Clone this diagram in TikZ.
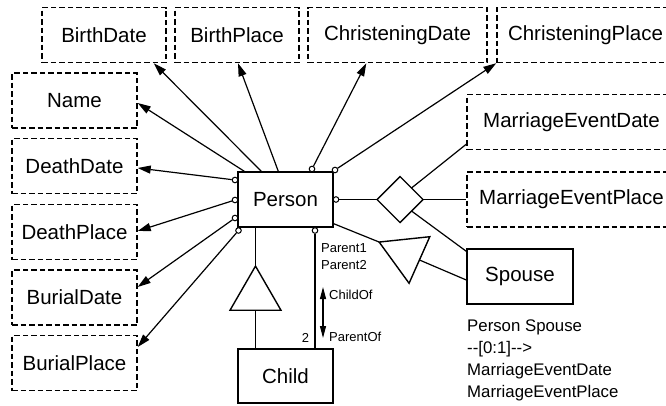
\documentclass[tikz,border=0pt]{standalone}
\usepackage{fontspec}
\setmainfont{Liberation Sans}
\usetikzlibrary{arrows.meta,shapes.geometric}
\begin{document}
\begin{tikzpicture}[x=1pt,y=-1pt,
  ent/.style={draw, line width=1.4pt, minimum width=#1, minimum height=55pt, inner sep=0pt, font=\fontsize{20.5}{23}\selectfont},
  attr/.style={draw, line width=1.4pt, dash pattern=on 5.5pt off 3pt, minimum width=#1, minimum height=55pt, inner sep=0pt, font=\fontsize{20.5}{23}\selectfont},
  conn/.style={line width=1.2pt},
  arr/.style={conn, -{Triangle[length=13pt,width=8pt]}},
  dblarr/.style={conn, {Triangle[length=12pt,width=6pt]}-{Triangle[length=12pt,width=6pt]}},
  port/.style={circle, draw, line width=1pt, fill=white, minimum size=5.6pt, inner sep=0pt},
  small/.style={font=\fontsize{13}{15}\selectfont, inner sep=0pt},
  tri/.style={regular polygon, regular polygon sides=3, draw, line width=1.4pt, minimum size=58.8pt, inner sep=0pt, outer sep=0pt},
  rel/.style={diamond, draw, line width=1.4pt, minimum width=46pt, minimum height=46pt, inner sep=0pt, outer sep=0pt}
]
\useasboundingbox (0,0) rectangle (666,405);

% attribute boxes
\node[attr=124pt] (BirthDate) at (104,35) {BirthDate};
\node[attr=124pt] (BirthPlace) at (237,35) {BirthPlace};
\node[attr=179pt] (ChrDate) at (397.5,35) {ChristeningDate};
\node[attr=177pt] (ChrPlace) at (585.5,35) {ChristeningPlace};
\node[attr=125pt] (Name) at (74.5,100.5) {Name};
\node[attr=125pt] (DeathDate) at (74.5,166) {DeathDate};
\node[attr=125pt] (DeathPlace) at (74.5,232) {DeathPlace};
\node[attr=125pt] (BurialDate) at (74.5,297.5) {BurialDate};
\node[attr=125pt] (BurialPlace) at (74.5,363) {BurialPlace};
\node[attr=209pt] (MED) at (571.5,122) {MarriageEventDate};
\node[attr=209pt] (MEP) at (571.5,199.5) {MarriageEventPlace};

% entities
\node[ent=95pt] (Person) at (285.5,199.5) {Person};
\node[ent=106pt] (Spouse) at (520,276.5) {Spouse};
\node[ent=95pt, minimum height=54pt] (Child) at (285.5,376) {Child};

% relationship and subtype symbols
\node[rel] (dia) at (400,199.5) {};
\node[tri] (tri1) at (255.5,295.5) {};
\node[tri, rotate=66] (tri2) at (406,254) {};

% ports on Person
\node[port] (cT) at (312,169) {};
\node[port] (cTR) at (335,170) {};
\node[port] (cR) at (336,199.5) {};
\node[port] (cL1) at (235,180) {};
\node[port] (cL2) at (235,200) {};
\node[port] (cL3) at (235,218) {};
\node[port] (cBL) at (238.5,230.5) {};
\node[port] (cB) at (315,230.5) {};

% attribute arrows
\draw[arr] ([xshift=7pt]Person.north west) -- ([yshift=-2.5pt]Name.east);
\draw[arr] ([xshift=24pt]Person.north west) -- ([xshift=-13pt]BirthDate.south east);
\draw[arr] ([xshift=41pt]Person.north west) -- ([xshift=1pt]BirthPlace.south);
\draw[arr] (cT) -- ([xshift=59pt]ChrDate.south west);
\draw[arr] (cTR) -- (ChrPlace.south west);
\draw[arr] (cL1) -- ([yshift=-2pt]DeathDate.east);
\draw[arr] (cL2) -- ([yshift=1pt]DeathPlace.east);
\draw[arr] (cL3) -- ([yshift=10.5pt]BurialDate.east);
\draw[arr] (cBL) -- ([yshift=16pt]BurialPlace.east);

% marriage relationship
\draw[conn] (cR) -- (dia.west);
\draw[conn] (dia.east) -- (MEP.west);
\draw[conn] (dia.north east) -- ([yshift=6pt]MED.south west);
\draw[conn] (dia.south east) -- ([yshift=-3pt]Spouse.north west);

% spouse subtype
\draw[conn] ([yshift=4pt]Person.south east) -- (tri2.corner 1);
\draw[conn] (tri2.side 2) -- ([yshift=-3.5pt]Spouse.west);

% child subtype
\draw[conn] (tri1.corner 1) -- (tri1.corner 1 |- Person.south);
\draw[conn] (tri1.side 2) -- (tri1.side 2 |- Child.north);

% parent link
\draw[conn] (cB) -- (cB |- Child.north);
\coordinate (pa1) at (323,287);
\coordinate (pa2) at (323,338);
\draw[dblarr] (pa1) -- (pa2);

% labels
\node[small, anchor=west] (lp1) at (321,248) {Parent1};
\node[small, anchor=west] (lp2) at (321,265) {Parent2};
\node[small, anchor=west] (lco) at (329,295) {ChildOf};
\node[small, anchor=west] (lpo) at (329,337) {ParentOf};
\node[small] (ltwo) at (305.5,338) {2};

\node[anchor=north west, align=left, inner sep=0pt, font=\fontsize{16.8}{22}\selectfont] (note) at (467,320)
  {Person Spouse\\-\kern0pt-[0:1]-\kern0pt->\\MarriageEventDate\\MarriageEventPlace};
\end{tikzpicture}
\end{document}
